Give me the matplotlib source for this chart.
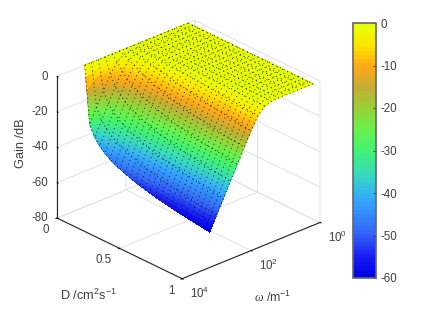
import matplotlib
matplotlib.use('Agg')
import matplotlib.pyplot as plt
from matplotlib.colors import LinearSegmentedColormap
from mpl_toolkits.mplot3d import Axes3D  # noqa
import numpy as np

plt.rcParams['font.family'] = ['Liberation Sans', 'DejaVu Sans']
plt.rcParams['mathtext.fontset'] = 'custom'
plt.rcParams['mathtext.rm'] = 'Liberation Sans'
plt.rcParams['mathtext.it'] = 'Liberation Serif:italic'
plt.rcParams['mathtext.default'] = 'regular'

D_values = [0, .04, .08, .12, .16, .2, .24, .28, .32, .36, .4, .44, .48, .52, .56, .6,
            .64, .68, .72, .76, .8, .84, .88, .92, .96, 1]
omega_exponents = [.2, .4, .6, .8, 1.0, 1.2, 1.4, 1.6, 1.8, 2.0, 2.2, 2.4, 2.6, 2.8, 3.0, 3.2]
# Gain in dB, one row per D, read from the surface; first six omega columns are 0 dB
gain_low_omega = [0, 0, 0, 0, 0, 0]
gain_rows = [
    [0, 0, 0, 0, 0, 0, 0, 0, 0, 0],
    [0, 0, 0, -.1, -.6, -3.0, -8.6, -16.1, -24, -32],
    [0, 0, -.1, -.4, -2.1, -6.9, -14.1, -22.1, -30.1, -38],
    [0, 0, -.2, -.9, -3.9, -10, -17.6, -25.6, -33.6, -41.6],
    [0, 0, -.3, -1.5, -5.4, -12.2, -20, -28.1, -36.1, -44.1],
    [0, -.1, -.4, -2.2, -6.9, -14.1, -22, -30, -38, -46],
    [0, -.1, -.6, -2.9, -8.1, -15.7, -23.6, -31.6, -39.6, -47.6],
    [0, -.1, -.8, -3.5, -9.4, -17.1, -25, -32.9, -40.9, -48.9],
    [0, -.2, -1, -4.1, -10.4, -18.1, -26, -34, -42, -50],
    [0, -.2, -1.2, -4.9, -11.5, -19.2, -27.2, -35.1, -43.1, -51.1],
    [0, -.3, -1.5, -5.4, -12.2, -20, -28, -36, -44, -52],
    [-.1, -.3, -1.7, -6, -13, -20.9, -28.9, -36.9, -44.9, -52.9],
    [-.1, -.4, -2, -6.5, -13.8, -21.7, -29.6, -37.6, -45.6, -53.6],
    [-.1, -.4, -2.3, -7.1, -14.5, -22.4, -30.3, -38.3, -46.3, -54.3],
    [-.1, -.5, -2.5, -7.6, -15.1, -23, -31, -39, -47, -55],
    [-.1, -.6, -2.9, -8.1, -15.7, -23.6, -31.6, -39.6, -47.6, -55.6],
    [-.1, -.7, -3.1, -8.6, -16.2, -24.2, -32.2, -40.1, -48.1, -56.1],
    [-.1, -.7, -3.2, -9, -16.7, -24.7, -32.7, -40.7, -48.7, -56.7],
    [-.2, -.8, -3.7, -9.7, -17.2, -25.2, -33.1, -41.1, -49.1, -57.1],
    [-.2, -.9, -3.9, -10, -17.6, -25.6, -33.6, -41.6, -49.6, -57.6],
    [-.2, -1, -4.1, -10.4, -18.1, -26, -34, -42, -50, -58],
    [-.2, -1.1, -4.3, -10.8, -18.5, -26.4, -34.4, -42.4, -50.4, -58.4],
    [-.2, -1.2, -4.6, -11.2, -18.9, -26.8, -34.8, -42.8, -50.8, -58.8],
    [-.2, -1.2, -4.9, -11.6, -19.3, -27.2, -35.2, -43.2, -51.2, -59.2],
    [-.2, -1.3, -5.1, -11.9, -19.6, -27.6, -35.6, -43.6, -51.6, -59.6],
    [-.3, -1.5, -5.4, -12.3, -20, -28, -36, -44, -52, -60],
]
D_ticks = [0, .5, 1]
D_ticklabels = ['0', '0.5', '1']
omega_ticks = [0, 2, 4]
omega_ticklabels = ['$10^{0}$', '$10^{2}$', '$10^{4}$']
gain_ticks = [-80, -60, -40, -20, 0]
gain_ticklabels = ['-80', '-60', '-40', '-20', '0']
cbar_ticks = [0, -10, -20, -30, -40, -50, -60]

cmap = LinearSegmentedColormap.from_list('gain', [
    (0.00, (0.00, 0.00, 0.90)), (0.08, (0.10, 0.12, 0.95)), (0.17, (0.20, 0.40, 0.97)),
    (0.30, (0.20, 0.65, 1.00)), (0.40, (0.22, 0.85, 0.75)), (0.50, (0.25, 0.95, 0.45)),
    (0.58, (0.40, 0.95, 0.30)), (0.67, (0.60, 0.82, 0.22)), (0.75, (0.76, 0.68, 0.20)),
    (0.83, (1.00, 0.65, 0.10)), (0.92, (1.00, 0.90, 0.00)), (0.985, (0.92, 1.00, 0.00)),
    (1.00, (0.90, 1.00, 0.00)),
], N=64)

W, H = 443, 313
fig = plt.figure(figsize=(W / 100, H / 100), dpi=100, facecolor='white')
S = 298
ax = fig.add_axes([35.5 / W, 10.5 / H, S / W, S / H], projection='3d', proj_type='ortho')
ax.set_box_aspect((185, 187, 158), zoom=1.0)
ax.view_init(elev=26.4, azim=-42.5)
ax.computed_zorder = False
ax.patch.set_alpha(0)

Z = np.array([gain_low_omega + r for r in gain_rows], dtype=float)
X, Y = np.meshgrid(D_values, omega_exponents, indexing='ij')

# Shading only: each read cell is divided so the colour runs smoothly across it,
# as MATLAB's interpolated shading does. The mesh below uses the table as read.
sub = 5
i_fine = np.linspace(0, Z.shape[0] - 1, (Z.shape[0] - 1) * sub + 1)
j_fine = np.linspace(0, Z.shape[1] - 1, (Z.shape[1] - 1) * sub + 1)
Z_r = np.array([np.interp(i_fine, np.arange(Z.shape[0]), Z[:, j]) for j in range(Z.shape[1])]).T
Z_f = np.array([np.interp(j_fine, np.arange(Z.shape[1]), row) for row in Z_r])
X_f, Y_f = np.meshgrid(np.interp(i_fine, np.arange(len(D_values)), D_values),
                       np.interp(j_fine, np.arange(len(omega_exponents)), omega_exponents),
                       indexing='ij')

surf = ax.plot_surface(X_f, Y_f, Z_f, rstride=1, cstride=1, cmap=cmap, vmin=-60, vmax=0,
                       linewidth=0, antialiased=False, shade=False, zorder=2)
ax.plot_wireframe(X, Y, Z, rstride=1, cstride=1, color='k', linewidth=0.7,
                  linestyle=(0, (1, 3.2)), zorder=3, alpha=0.85)

ax.set_xlim(0, 1, view_margin=0)
ax.set_ylim(4, 0, view_margin=0)
ax.set_zlim(-80, 0, view_margin=0)
ax.set_xticks(D_ticks)
ax.set_yticks(omega_ticks)
ax.set_zticks(gain_ticks)
ax.zaxis.set_ticks_position('upper')
for axis in (ax.xaxis, ax.yaxis, ax.zaxis):
    axis.set_pane_color((1, 1, 1, 0))
    axis.pane.set_edgecolor((1, 1, 1, 0))
    axis.line.set_color('#262626')
    axis.line.set_linewidth(0.8)
    axis._axinfo['grid'].update(color='#e2e2e2', linewidth=0.7)
    axis._axinfo['tick'].update(inward_factor=0.12, outward_factor=0.0, linewidth={True: .6, False: .6})
    axis._axinfo['tick']['color'] = '#262626'
    axis.set_tick_params(label1On=False, label2On=False)
    axis.label.set_visible(False)
    axis.offsetText.set_visible(False)

fs = 8.3
txt = '#404040'
for v, s in zip(D_ticks, D_ticklabels):
    ax.text(v, 4.22, -85, s, fontsize=fs, color=txt, ha='right', va='center')
for v, s in zip(omega_ticks, omega_ticklabels):
    ax.text(1.064, v, -86, s, fontsize=fs, color=txt, ha='left', va='center')
for v, s in zip(gain_ticks, gain_ticklabels):
    ax.text(0, 4.26, v + 2, s, fontsize=fs, color=txt, ha='right', va='center')

fig.text(89 / W, 1 - 295 / H, 'D /cm$^{2}$s$^{-1}$', fontsize=9.2, color=txt, ha='center', va='center')
fig.text(273 / W, 1 - 297 / H, r'$\mathit{\omega}$ /m$^{-1}$', fontsize=8.8, color=txt, ha='center', va='center')
fig.text(21 / W, 1 - 143 / H, 'Gain /dB', fontsize=9.2, color=txt, ha='center', va='center', rotation=90)

cax = fig.add_axes([353 / W, 1 - 278 / H, 23 / W, 255 / H])
cb = fig.colorbar(surf, cax=cax, ticks=cbar_ticks)
cb.ax.set_yticklabels([str(t) for t in cbar_ticks])
cb.ax.tick_params(direction='in', length=2.2, width=0.6, labelsize=fs, labelcolor=txt, color='#262626', pad=3)
cb.outline.set_edgecolor('#666666')
cb.outline.set_linewidth(1.2)

fig.savefig('out.png', dpi=100, facecolor='white')
